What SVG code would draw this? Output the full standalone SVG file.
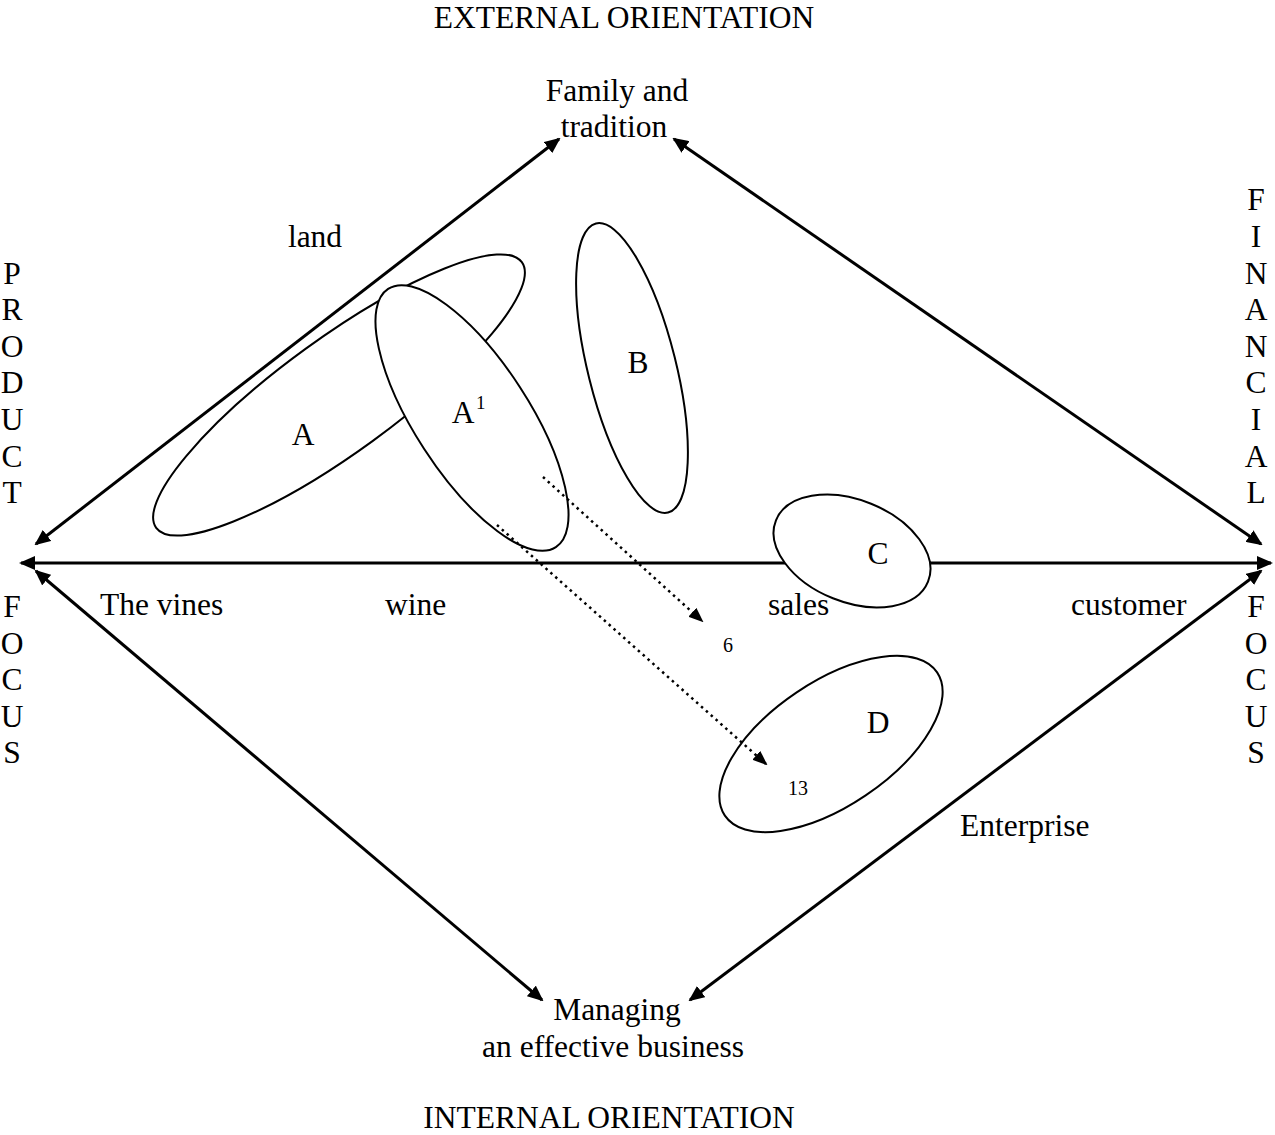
<svg xmlns="http://www.w3.org/2000/svg" width="1275" height="1135" viewBox="0 0 1275 1135">
<defs>
<marker id="ah" viewBox="0 0 16 14" refX="14" refY="7" markerWidth="16" markerHeight="14" markerUnits="userSpaceOnUse" orient="auto-start-reverse"><path d="M0,0 L16,7 L0,14 z" fill="#000"/></marker>
<marker id="ah2" viewBox="0 0 15 12" refX="13" refY="6" markerWidth="15" markerHeight="12" markerUnits="userSpaceOnUse" orient="auto"><path d="M0,0 L15,6 L0,12 z" fill="#000"/></marker>
</defs>
<style>
text{font-family:"Liberation Serif","Times New Roman",serif;font-size:31.5px;fill:#000}
.sm{font-size:20px}
.sup{font-size:19px}
.c{text-anchor:middle}
.ax{stroke:#000;stroke-width:3;fill:none}
.el{stroke:#000;stroke-width:2;fill:#fff}
.dot{stroke:#000;stroke-width:2.5;stroke-dasharray:2.5 4;fill:none}
</style>
<rect width="1275" height="1135" fill="#fff"/>
<g id="connectors">
<line class="ax" x1="21" y1="563" x2="1271" y2="563" marker-start="url(#ah)" marker-end="url(#ah)"/>
<line class="ax" x1="36" y1="544" x2="559" y2="139" marker-start="url(#ah)" marker-end="url(#ah)"/>
<line class="ax" x1="674" y1="139" x2="1261" y2="544" marker-start="url(#ah)" marker-end="url(#ah)"/>
<line class="ax" x1="36" y1="571" x2="542" y2="1000" marker-start="url(#ah)" marker-end="url(#ah)"/>
<line class="ax" x1="1261" y1="571" x2="690" y2="1000" marker-start="url(#ah)" marker-end="url(#ah)"/>
</g>
<g id="node-A"><ellipse class="el" cx="339" cy="395" rx="226" ry="57" transform="rotate(-36 339 395)"/><text x="303" y="445" class="c">A</text></g>
<g id="node-A1"><ellipse class="el" cx="472" cy="418" rx="154" ry="57" transform="rotate(57 472 418)"/><text x="463" y="423" class="c">A</text><text x="476" y="409" class="sup">1</text></g>
<g id="node-B"><ellipse class="el" cx="632" cy="368" rx="149" ry="44" transform="rotate(76 632 368)"/><text x="638" y="373" class="c">B</text></g>
<g id="node-C"><ellipse class="el" cx="852" cy="551" rx="82" ry="51" transform="rotate(22 852 551)"/><text x="878" y="564" class="c">C</text></g>
<g id="node-D"><ellipse class="el" cx="831" cy="744" rx="128" ry="62" transform="rotate(-34 831 744)"/><text x="878" y="733" class="c">D</text></g>
<g id="dotted">
<line class="dot" x1="543" y1="477" x2="702" y2="621" marker-end="url(#ah2)"/>
<line class="dot" x1="497" y1="525" x2="766" y2="764" marker-end="url(#ah2)"/>
</g>
<g id="labels">
<text x="624" y="28" class="c">EXTERNAL ORIENTATION</text>
<text x="617" y="101" class="c">Family and</text>
<text x="614" y="137" class="c">tradition</text>
<text x="315" y="247" class="c">land</text>
<text x="12" y="284" class="c">P</text><text x="12" y="320" class="c">R</text><text x="12" y="357" class="c">O</text><text x="12" y="393" class="c">D</text><text x="12" y="430" class="c">U</text><text x="12" y="467" class="c">C</text><text x="12" y="503" class="c">T</text>
<text x="12" y="617" class="c">F</text><text x="12" y="654" class="c">O</text><text x="12" y="690" class="c">C</text><text x="12" y="727" class="c">U</text><text x="12" y="763" class="c">S</text>
<text x="1256" y="210" class="c">F</text><text x="1256" y="247" class="c">I</text><text x="1256" y="284" class="c">N</text><text x="1256" y="320" class="c">A</text><text x="1256" y="357" class="c">N</text><text x="1256" y="393" class="c">C</text><text x="1256" y="430" class="c">I</text><text x="1256" y="467" class="c">A</text><text x="1256" y="503" class="c">L</text>
<text x="1256" y="617" class="c">F</text><text x="1256" y="654" class="c">O</text><text x="1256" y="690" class="c">C</text><text x="1256" y="727" class="c">U</text><text x="1256" y="763" class="c">S</text>
<text x="100" y="615">The vines</text>
<text x="385" y="615">wine</text>
<text x="768" y="615">sales</text>
<text x="1071" y="615">customer</text>
<text x="728" y="652" class="c sm">6</text>
<text x="798" y="795" class="c sm">13</text>
<text x="960" y="836">Enterprise</text>
<text x="617" y="1020" class="c">Managing</text>
<text x="613" y="1057" class="c">an effective business</text>
<text x="609" y="1128" class="c">INTERNAL ORIENTATION</text>
</g>
</svg>
